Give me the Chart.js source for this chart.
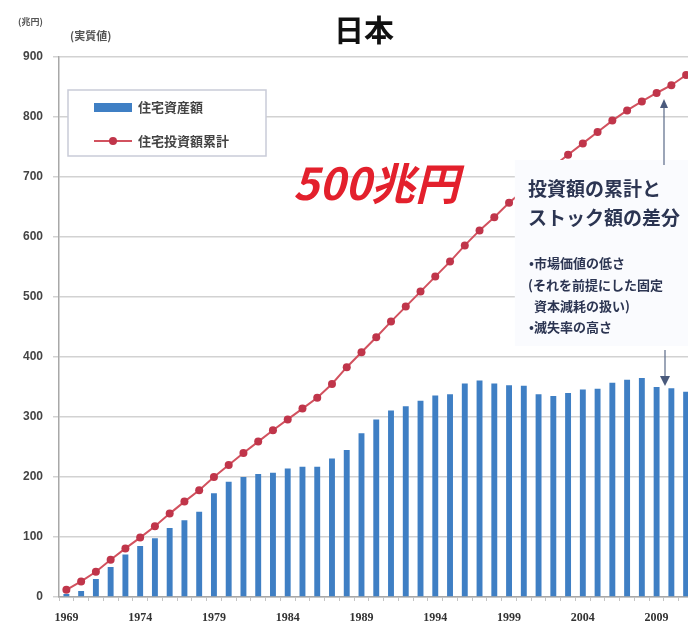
<!DOCTYPE html>
<html lang="ja">
<head>
<meta charset="utf-8">
<title>日本 住宅資産額と住宅投資額累計</title>
<script src="https://cdn.jsdelivr.net/npm/chart.js@4/dist/chart.umd.min.js"></script>
<style>
  html, body { margin: 0; padding: 0; background: #ffffff; overflow: hidden; }
  #wrap { position: relative; width: 700px; height: 637px; }
</style>
</head>
<body>
<div id="wrap"><canvas id="chart"></canvas></div>
<script>
// Years on the category axis (labels shown every 5 years)
const years = ['1969','1970','1971','1972','1973','1974','1975','1976','1977','1978',
  '1979','1980','1981','1982','1983','1984','1985','1986','1987','1988',
  '1989','1990','1991','1992','1993','1994','1995','1996','1997','1998',
  '1999','2000','2001','2002','2003','2004','2005','2006','2007','2008',
  '2009','2010','2011'];

// 住宅資産額 (兆円, 実質値)
const housingStock = [5, 10, 30, 50, 71, 85, 98, 115, 128, 142,
  173, 192, 200, 205, 207, 214, 217, 217, 231, 245,
  273, 296, 311, 318, 327, 336, 338, 356, 361, 356,
  353, 352, 338, 335, 340, 346, 347, 357, 362, 365,
  350, 348, 342];

// 住宅投資額累計 (兆円, 実質値)
const cumulativeInvestment = [12, 26, 42, 62, 81, 99, 118, 139, 159, 178,
  200, 220, 240, 259, 278, 296, 314, 332, 355, 383,
  408, 433, 459, 484, 509, 534, 559, 586, 611, 633,
  657, 678, 698, 718, 737, 756, 775, 794, 811, 826,
  840, 853, 870];

// Y axis ticks (兆円)
const yTicks = [0, 100, 200, 300, 400, 500, 600, 700, 800, 900];

const seriesNames = ['住宅資産額', '住宅投資額累計'];

const BAR_BLUE = '#3f7fc4';
const LINE_RED = '#d2525f';
const POINT_RED = '#c0354a';
const NAVY = '#2c3552';
const CJK = '"Noto Sans CJK JP", "Noto Sans", sans-serif';

// Titles, legend, callout and arrows drawn on top of the plot
const overlay = {
  id: 'overlay',
  afterDatasetsDraw(chart) {
    const ctx = chart.ctx;
    const area = chart.chartArea;
    const x = chart.scales.x;
    ctx.save();

    // Title
    ctx.fillStyle = '#111';
    ctx.font = 'bold 30px ' + CJK;
    ctx.textAlign = 'center';
    ctx.textBaseline = 'middle';
    ctx.fillText('日本', 364, 30);

    // Unit notes
    ctx.fillStyle = '#555';
    ctx.font = 'bold 9px ' + CJK;
    ctx.textAlign = 'left';
    ctx.fillText('(兆円)', 18, 22);
    ctx.font = 'bold 11px ' + CJK;
    ctx.fillText('(実質値)', 70, 36);

    // Legend box
    ctx.fillStyle = '#ffffff';
    ctx.fillRect(68, 90, 198, 66);
    ctx.strokeStyle = '#c9cbd8';
    ctx.lineWidth = 1.5;
    ctx.strokeRect(68, 90, 198, 66);
    ctx.fillStyle = BAR_BLUE;
    ctx.fillRect(94, 103, 38, 9);
    ctx.strokeStyle = LINE_RED;
    ctx.lineWidth = 2;
    ctx.beginPath();
    ctx.moveTo(94, 141);
    ctx.lineTo(132, 141);
    ctx.stroke();
    ctx.fillStyle = POINT_RED;
    ctx.beginPath();
    ctx.arc(113, 141, 4, 0, Math.PI * 2);
    ctx.fill();
    ctx.fillStyle = '#444';
    ctx.font = 'bold 13px ' + CJK;
    ctx.textBaseline = 'middle';
    ctx.fillText(seriesNames[0], 138, 107);
    ctx.fillText(seriesNames[1], 138, 141);

    // Gap figure
    ctx.fillStyle = '#e3202c';
    ctx.font = 'italic bold 44px ' + CJK;
    ctx.textAlign = 'center';
    ctx.textBaseline = 'alphabetic';
    ctx.fillText('500兆円', 376, 200);

    // Callout panel on the right
    const left = x.getPixelForValue(31) - 9;
    ctx.fillStyle = '#fafbfe';
    ctx.fillRect(left, 160, area.right - left, 186);

    ctx.fillStyle = NAVY;
    ctx.textAlign = 'left';
    ctx.textBaseline = 'middle';
    ctx.font = 'bold 19px ' + CJK;
    ctx.fillText('投資額の累計と', 528, 189);
    ctx.fillText('ストック額の差分', 528, 218);
    ctx.font = 'bold 13px ' + CJK;
    ctx.fillText('•市場価値の低さ', 529, 263);
    ctx.fillText('(それを前提にした固定', 528, 285);
    ctx.fillText('資本減耗の扱い)', 534, 306);
    ctx.fillText('•滅失率の高さ', 529, 327);

    // Arrows from the callout to the two series
    const ax = 664;
    ctx.strokeStyle = '#5a6a88';
    ctx.fillStyle = '#4a5a7c';
    ctx.lineWidth = 1.2;
    ctx.beginPath();
    ctx.moveTo(ax, 165);
    ctx.lineTo(ax, 104);
    ctx.stroke();
    ctx.beginPath();
    ctx.moveTo(ax, 99);
    ctx.lineTo(ax - 4, 108);
    ctx.lineTo(ax + 4, 108);
    ctx.closePath();
    ctx.fill();

    ctx.beginPath();
    ctx.moveTo(ax + 1, 350);
    ctx.lineTo(ax + 1, 380);
    ctx.stroke();
    ctx.beginPath();
    ctx.moveTo(ax + 1, 386);
    ctx.lineTo(ax - 4, 376);
    ctx.lineTo(ax + 6, 376);
    ctx.closePath();
    ctx.fill();

    ctx.restore();
  }
};

new Chart(document.getElementById('chart'), {
  data: {
    labels: years,
    datasets: [
      {
        type: 'line',
        label: seriesNames[1],
        data: cumulativeInvestment,
        borderColor: LINE_RED,
        borderWidth: 2,
        pointRadius: 4,
        pointBackgroundColor: POINT_RED,
        pointBorderColor: POINT_RED,
        pointBorderWidth: 0,
        tension: 0,
        order: 1
      },
      {
        type: 'bar',
        label: seriesNames[0],
        data: housingStock,
        backgroundColor: BAR_BLUE,
        categoryPercentage: 1,
        barPercentage: 0.4,
        order: 2
      }
    ]
  },
  options: {
    responsive: true,
    maintainAspectRatio: false,
    animation: false,
    layout: { padding: { top: 57, right: 6.5, left: 0, bottom: 0 } },
    plugins: {
      legend: { display: false },
      title: { display: false },
      tooltip: { enabled: false }
    },
    scales: {
      x: {
        type: 'category',
        offset: true,
        grid: {
          display: true,
          drawOnChartArea: false,
          drawTicks: true,
          tickLength: 4,
          color: '#c4c4c4'
        },
        border: { display: true, color: '#a8a8a8', width: 1.5 },
        ticks: {
          autoSkip: false,
          maxRotation: 0,
          minRotation: 0,
          padding: 10,
          color: '#333',
          font: { family: '"Liberation Serif", "DejaVu Serif", serif', size: 12, weight: 'bold' },
          callback: function (value, index) {
            return index % 5 === 0 ? years[index] : '';
          }
        },
        afterFit: function (scale) { scale.height = 40; }
      },
      y: {
        min: 0,
        max: 900,
        afterBuildTicks: function (scale) {
          scale.ticks = yTicks.map(v => ({ value: v }));
        },
        grid: {
          color: '#d2d2d2',
          lineWidth: 1.5,
          tickLength: 6,
          drawTicks: true
        },
        border: { display: true, color: '#a8a8a8', width: 1.5 },
        ticks: {
          color: '#444',
          padding: 10,
          font: { family: '"Liberation Sans", Arial, sans-serif', size: 12, weight: 'bold' }
        },
        afterFit: function (scale) { scale.width = 59; }
      }
    }
  },
  plugins: [overlay]
});
</script>
</body>
</html>
